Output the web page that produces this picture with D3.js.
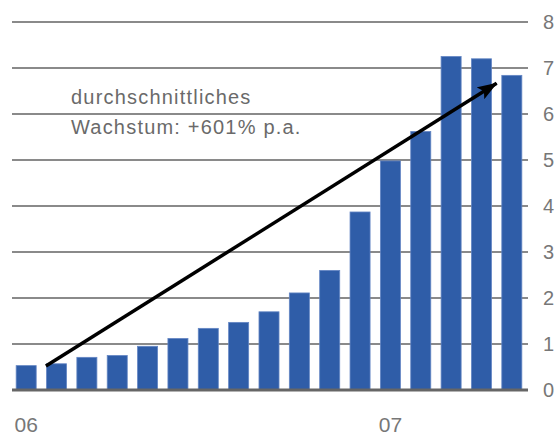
<!DOCTYPE html>
<html>
<head>
<meta charset="utf-8">
<script src="https://cdn.jsdelivr.net/npm/d3@7"></script>
<style>
  html, body { margin: 0; padding: 0; background: #fff; }
  svg { display: block; font-family: "Liberation Sans", Arial, sans-serif; }
</style>
</head>
<body>
<svg id="chart" width="557" height="435"></svg>
<script>
// ---- data ----
const months = ["Jan 06","Feb 06","Mär 06","Apr 06","Mai 06","Jun 06","Jul 06","Aug 06","Sep 06","Okt 06","Nov 06","Dez 06","Jan 07","Feb 07","Mär 07","Apr 07","Mai 07"];
const values = [0.53, 0.57, 0.71, 0.75, 0.95, 1.12, 1.34, 1.47, 1.70, 2.11, 2.60, 3.87, 4.98, 5.62, 7.25, 7.20, 6.84];
const yTicks = [0, 1, 2, 3, 4, 5, 6, 7, 8];
const xTickLabels = [{ index: 0, label: "06" }, { index: 12, label: "07" }];
const annotationLines = ["durchschnittliches", "Wachstum: +601% p.a."];
// arrow in data units: fractional month index, value
const arrowFrom = { i: 1.15, v: 0.52 };
const arrowTo = { i: 16.0, v: 6.67 };

// ---- layout ----
const svg = d3.select("#chart");
const plot = { left: 12, right: 528, top: 22, bottom: 390 };

const x = d3.scaleBand()
  .domain(d3.range(months.length))
  .range([plot.left - 1, plot.right - 1])
  .paddingInner(0.34)
  .paddingOuter(0.17);
const xi = d3.scaleLinear().domain([0, months.length]).range([plot.left - 1, plot.right - 1]);
const y = d3.scaleLinear().domain([0, 8]).range([plot.bottom, plot.top]);

// gridlines
svg.append("g").selectAll("line")
  .data(yTicks.filter(d => d > 0))
  .join("line")
  .attr("x1", plot.left).attr("x2", plot.right)
  .attr("y1", d => y(d)).attr("y2", d => y(d))
  .attr("stroke", "#8a8a8a").attr("stroke-width", 2);

// bars
svg.append("g").selectAll("rect")
  .data(values)
  .join("rect")
  .attr("x", (d, i) => x(i))
  .attr("width", x.bandwidth())
  .attr("y", d => y(d))
  .attr("height", d => y(0) - y(d))
  .attr("fill", "#2f5da8")
  .attr("stroke", "#6486c4")
  .attr("stroke-width", 0.8);

// baseline
svg.append("line")
  .attr("x1", plot.left).attr("x2", plot.right)
  .attr("y1", y(0)).attr("y2", y(0))
  .attr("stroke", "#666").attr("stroke-width", 3);

// right y axis labels
const yAxis = d3.axisRight(y).tickValues(yTicks).tickSize(0).tickPadding(0).tickFormat(d3.format("d"));
const gy = svg.append("g").attr("transform", `translate(${plot.right + 15},0)`).call(yAxis);
gy.select(".domain").remove();
gy.selectAll("text")
  .attr("font-size", 20)
  .attr("font-family", "'Liberation Sans', Arial, sans-serif")
  .attr("fill", "#777");

// x labels
svg.append("g").selectAll("text")
  .data(xTickLabels)
  .join("text")
  .attr("x", d => x(d.index) + x.bandwidth() / 2)
  .attr("y", 432)
  .attr("text-anchor", "middle")
  .attr("font-size", 21)
  .attr("fill", "#777")
  .text(d => d.label);

// annotation text
svg.append("g").selectAll("text")
  .data(annotationLines)
  .join("text")
  .attr("x", 71)
  .attr("y", (d, i) => 104 + i * 30)
  .attr("font-size", 20)
  .attr("letter-spacing", "1.2px")
  .attr("fill", "#6a6a6a")
  .text(d => d);

// arrow
const defs = svg.append("defs");
defs.append("marker")
  .attr("id", "arrowhead")
  .attr("viewBox", "0 0 20 14")
  .attr("refX", 19).attr("refY", 7)
  .attr("markerWidth", 20).attr("markerHeight", 14)
  .attr("markerUnits", "userSpaceOnUse")
  .attr("orient", "auto")
  .append("path")
  .attr("d", "M0,0 L20,7 L0,14 L4,7 Z")
  .attr("fill", "#000");

svg.append("line")
  .attr("x1", xi(arrowFrom.i)).attr("y1", y(arrowFrom.v))
  .attr("x2", xi(arrowTo.i)).attr("y2", y(arrowTo.v))
  .attr("stroke", "#000").attr("stroke-width", 3.5)
  .attr("marker-end", "url(#arrowhead)");
</script>
</body>
</html>
